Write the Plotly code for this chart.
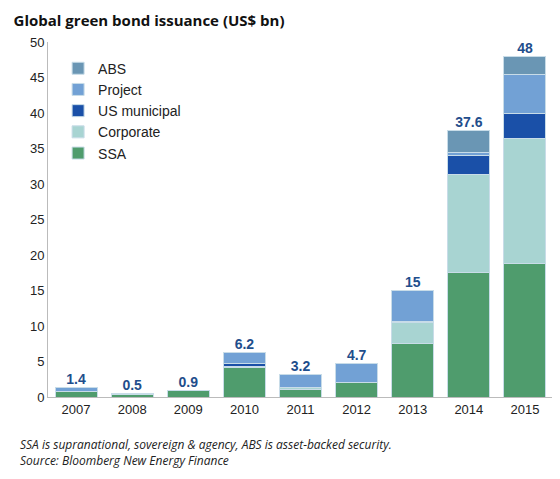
import plotly.graph_objects as go

years = ["2007","2008","2009","2010","2011","2012","2013","2014","2015"]
ssa       = [0.8, 0.3, 0.9, 4.2, 1.0, 2.0, 7.6, 17.6, 18.8]
corporate = [0.0, 0.2, 0.0, 0.1, 0.4, 0.0, 2.9, 13.7, 17.6]
muni      = [0.0, 0.0, 0.0, 0.4, 0.0, 0.0, 0.2, 2.7, 3.6]
project   = [0.6, 0.0, 0.0, 1.5, 1.8, 2.7, 4.3, 0.4, 5.4]
abs_      = [0.0, 0.0, 0.0, 0.0, 0.0, 0.0, 0.0, 3.2, 2.6]
totals    = [1.4, 0.5, 0.9, 6.2, 3.2, 4.7, 15, 37.6, 48]
total_labels = ["1.4","0.5","0.9","6.2","3.2","4.7","15","37.6","48"]

series = [("SSA", ssa, "#4f9c6d"), ("Corporate", corporate, "#a8d4d2"),
          ("US municipal", muni, "#1a50a8"), ("Project", project, "#72a1d5"),
          ("ABS", abs_, "#6a96b4")]

fig = go.Figure()
for name, vals, col in series:
    fig.add_trace(go.Bar(x=years, y=vals, name=name, marker=dict(color=col, line=dict(color="#c8dce8", width=1)),
                         width=0.75))
fig.add_trace(go.Scatter(x=years, y=totals, mode="text", text=["<b>%s</b>" % t for t in total_labels],
                         textposition="top center",
                         textfont=dict(size=14, color="#1f4e8c", family="Liberation Sans"), showlegend=False,
                         cliponaxis=False))
fig.update_layout(
    barmode="stack", width=560, height=479, plot_bgcolor="white", paper_bgcolor="white",
    margin=dict(l=40, r=15, t=34, b=90),
    font=dict(family="Liberation Sans", size=13, color="#222"),
    title=dict(text="<b>Global green bond issuance (US$ bn)</b>", x=0.01, y=0.985, xanchor="left",
               font=dict(family="Open Sans", size=15, color="#111")),
    legend=dict(traceorder="reversed", x=0.02, y=0.97, xanchor="left", yanchor="top",
                font=dict(size=14), itemwidth=30, bgcolor="rgba(0,0,0,0)"),
    xaxis=dict(showline=True, linecolor="#bbb", tickfont=dict(size=13)),
    yaxis=dict(range=[0, 50], dtick=5, showgrid=False, showline=True, linecolor="#bbb", tickfont=dict(size=13)),
    bargap=0.25,
)
fig.add_annotation(xref="paper", yref="paper", x=-0.06, y=-0.105, xanchor="left", yanchor="top", showarrow=False,
                   align="left",
                   text="<i>SSA is supranational, sovereign &amp; agency, ABS is asset-backed security.</i><br><i>Source: Bloomberg New Energy Finance</i>",
                   font=dict(family="Open Sans", size=12, color="#222"))
fig.write_html("out.html")
